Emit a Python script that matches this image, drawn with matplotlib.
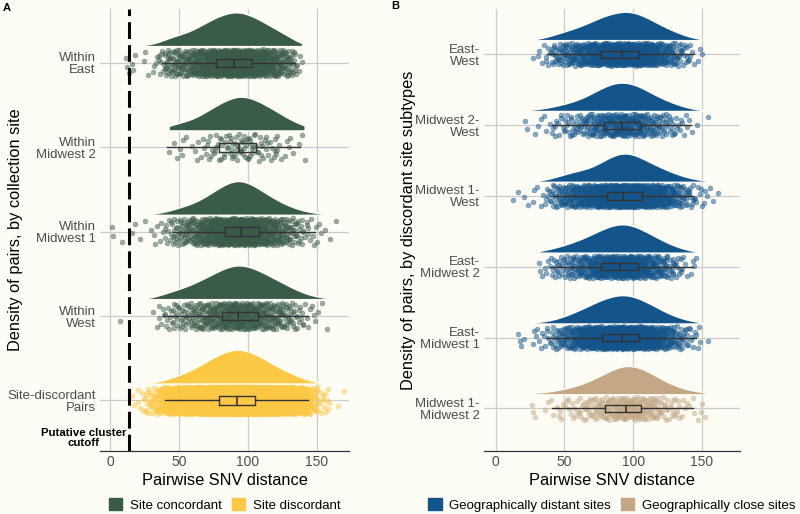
import numpy as np
import matplotlib.pyplot as plt
from matplotlib.patches import Patch

plt.rcParams['font.family'] = ['Liberation Sans', 'DejaVu Sans']

# ---- data (5-unit SNV bins starting at 0, counts) ----
bin_start = np.arange(0, 170, 5)

# panel A, top to bottom
labels_a = ["Within\nEast", "Within\nMidwest 2", "Within\nMidwest 1", "Within\nWest", "Site-discordant\nPairs"]
within_east = [0,0,3,3,1,2,4,10,18,21,24,29,36,44,52,60,65,70,72,68,62,55,47,39,31,23,16,4,0,0,0,0,0,0]
within_mw2 = [0,0,0,0,0,0,0,0,1,2,3,2,3,4,6,7,8,9,10,10,9,8,7,6,5,3,2,2,1,0,0,0,0,0]
within_mw1 = [2,1,0,2,1,2,3,4,8,14,18,22,28,36,46,56,66,74,78,76,68,58,48,38,30,22,16,11,7,4,3,2,1,0]
within_west = [0,1,0,0,0,0,2,5,8,10,12,15,18,22,26,30,34,38,40,38,36,32,28,24,20,16,12,8,5,3,2,1,0,0]
site_discordant = [0,0,0,2,6,12,20,36,60,90,120,160,200,250,300,350,390,420,430,420,390,350,300,250,200,160,120,80,50,24,10,6,0,2]
groups_a = ["conc", "conc", "conc", "conc", "disc"]
# box stats: whisker low, q1, median, q3, whisker high
box_a = [
    [38, 76.5, 90, 103, 134],
    [41, 79, 93.5, 105.5, 138],
    [46, 83, 95, 108, 148.5],
    [38.5, 81, 93, 107.5, 143.5],
    [40, 79, 92, 105, 143.5],
]

# panel B, top to bottom
labels_b = ["East-\nWest", "Midwest 2-\nWest", "Midwest 1-\nWest", "East-\nMidwest 2", "East-\nMidwest 1", "Midwest 1-\nMidwest 2"]
east_west = [0,0,0,0,0,1,3,6,12,16,20,25,30,36,42,50,55,58,62,62,58,52,44,36,28,22,15,10,5,3,0,0,0,0]
mw2_west = [0,0,0,0,2,1,2,3,5,6,8,10,12,16,20,24,28,30,31,30,27,23,19,15,12,9,6,4,2,1,1,0,0,0]
mw1_west = [0,0,1,1,2,2,3,6,12,18,24,30,32,36,44,56,68,78,84,82,74,64,54,44,36,28,20,14,9,6,3,2,1,0]
east_mw2 = [0,0,0,0,0,0,3,4,8,10,14,17,22,26,32,38,42,46,48,46,42,36,30,24,18,13,8,5,3,1,0,0,0,0]
east_mw1 = [0,0,0,3,1,3,4,6,10,16,22,30,38,46,56,64,70,76,78,76,70,62,52,42,32,24,16,10,7,4,1,0,0,0]
mw1_mw2 = [0,0,0,0,0,3,0,2,3,4,5,6,8,10,13,16,19,22,24,25,24,21,18,14,11,8,6,4,3,2,2,0,0,0]
groups_b = ["far", "far", "far", "far", "far", "close"]
box_b = [
    [37, 77, 91.7, 104.5, 144],
    [41, 79, 92, 105.5, 142],
    [42, 81, 92.4, 106.7, 143.6],
    [39.5, 77, 90.7, 103.8, 143.6],
    [37, 77.6, 91.7, 104.5, 146],
    [40.7, 79.5, 94.6, 105.7, 143.6],
]

cutoff = 14

BG = '#FDFDF6'
colors = {"conc": '#3A5B48', "disc": '#FDC843', "far": '#13548A', "close": '#C4A885'}
legend_a = [("conc", "Site concordant"), ("disc", "Site discordant")]
legend_b = [("far", "Geographically distant sites"), ("close", "Geographically close sites")]


def halton(i, b):
    f, r = 1.0, 0.0
    while i > 0:
        f /= b
        r += f * (i % b)
        i //= b
    return r


def draw_panel(ax, labels, counts, groups, boxes, xlim):
    n = len(labels)
    pos = np.arange(n)[::-1]
    for k in range(n):
        y0 = pos[k]
        col = colors[groups[k]]
        # spread each bin's points inside the bin (deterministic layout)
        xs, ys = [], []
        j = 1
        for b, c in zip(bin_start, counts[k]):
            for _ in range(c):
                xs.append(b + 5 * halton(j, 2))
                ys.append(y0 + (halton(j, 3) - 0.5) * 0.32)
                j += 1
        xs = np.array(xs)
        # density (gaussian kde, trimmed to data range)
        sd = xs.std()
        iqr = np.subtract(*np.percentile(xs, [75, 25]))
        bw = 1.2 * 0.9 * min(sd, iqr / 1.34) * len(xs) ** -0.2
        grid = np.linspace(xs.min(), xs.max(), 300)
        dens = np.exp(-0.5 * ((grid[:, None] - xs[None, :]) / bw) ** 2).sum(axis=1)
        dens = dens / dens.max() * 0.4
        ax.fill_between(grid, y0 + 0.2, y0 + 0.2 + dens, color=col, lw=1,
                        edgecolor=BG, zorder=2)
        ax.scatter(xs, ys, s=13, color=col, alpha=0.5, edgecolors=col,
                   linewidths=0.3, zorder=3)
    stats = [dict(whislo=b[0], q1=b[1], med=b[2], q3=b[3], whishi=b[4], fliers=[])
             for b in boxes]
    ax.bxp(stats, positions=pos, vert=False, widths=0.1, showfliers=False,
           showcaps=False, patch_artist=False,
           boxprops=dict(color='#333333', lw=1),
           whiskerprops=dict(color='#333333', lw=1),
           medianprops=dict(color='#333333', lw=1.2), manage_ticks=False,
           zorder=4)
    ax.set_yticks(pos)
    ax.set_yticklabels(labels, fontsize=9.5, color='#4D4D4D', linespacing=1.0)
    ax.set_xticks([0, 50, 100, 150])
    ax.set_xticklabels(['0', '50', '100', '150'], fontsize=10, color='#4D4D4D')
    ax.set_xlim(*xlim)
    ax.set_ylim(-0.6, n - 1 + 0.64)
    ax.set_facecolor(BG)
    ax.grid(True, color='#CCCCCC', lw=0.9)
    ax.set_axisbelow(True)
    for s in ['top', 'right', 'left']:
        ax.spines[s].set_visible(False)
    ax.spines['bottom'].set_color('#333333')
    ax.spines['bottom'].set_linewidth(0.9)
    ax.tick_params(length=0, pad=3)
    ax.set_xlabel('Pairwise SNV distance', fontsize=11.8, labelpad=3)


fig = plt.figure(figsize=(8, 5.14), dpi=100, facecolor=BG)
ax_a = fig.add_axes([0.125, 0.1226, 0.31125, 0.86])
ax_b = fig.add_axes([0.605, 0.1226, 0.32, 0.86])

draw_panel(ax_a, labels_a, [within_east, within_mw2, within_mw1, within_west, site_discordant],
           groups_a, box_a, (-7.25, 173.2))
draw_panel(ax_b, labels_b, [east_west, mw2_west, mw1_west, east_mw2, east_mw1, mw1_mw2],
           groups_b, box_b, (-8.5, 177.8))

ax_a.axvline(cutoff, color='black', lw=2.2, dashes=(5.5, 2), zorder=5)

ax_a.set_ylabel('Density of pairs, by collection site', fontsize=11.8)
ax_a.yaxis.set_label_coords(-0.309, 0.5)
ax_b.set_ylabel('Density of pairs, by discordant site subtypes', fontsize=11.8)
ax_b.yaxis.set_label_coords(-0.266, 0.5)

fig.text(83.5 / 800, 1 - 438.5 / 514, 'Putative cluster\ncutoff', ha='center', va='center',
         fontsize=8.2, fontweight='bold', linespacing=1.0, multialignment='center',
         zorder=6)

fig.text(0.003, 0.985, 'A', fontsize=8, fontweight='bold', va='center')
fig.text(0.489, 0.988, 'B', fontsize=8, fontweight='bold', va='center')

for ax, items in [(ax_a, legend_a), (ax_b, legend_b)]:
    handles = [Patch(color=colors[g]) for g, _ in items]
    names = [t for _, t in items]
    bb = ax.get_position()
    fig.legend(handles, names, loc='center', bbox_to_anchor=((bb.x0 + bb.x1) / 2, 0.0175),
               ncol=2, frameon=False, fontsize=9.5, handlelength=1.0, handleheight=1.0,
               handletextpad=0.6, columnspacing=0.75, borderpad=0)

fig.savefig('out.png', dpi=100, facecolor=BG)
